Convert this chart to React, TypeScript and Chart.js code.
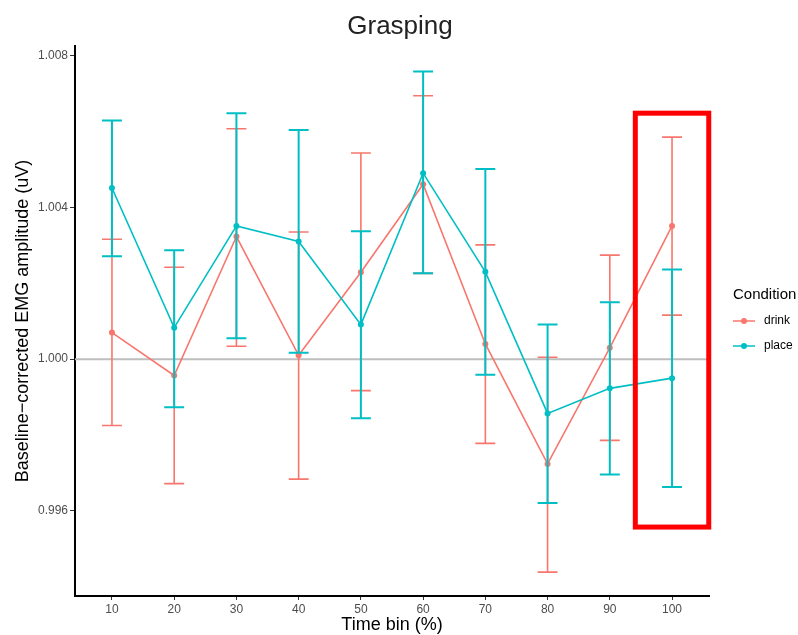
import React, { useEffect, useRef } from "react";
import { Chart, registerables } from "chart.js";

Chart.register(...registerables);

const timeBins = [10, 20, 30, 40, 50, 60, 70, 80, 90, 100];
const drinkMean = [1.0007, 0.99957, 1.00323, 1.0001, 1.00229, 1.00461, 1.0004, 0.99724, 1.0003, 1.00351];
const drinkUpper = [1.00316, 1.00242, 1.00607, 1.00335, 1.00543, 1.00694, 1.00301, 1.00005, 1.00274, 1.00585];
const drinkLower = [0.99825, 0.99672, 1.00034, 0.99684, 0.99917, 1.00226, 0.99778, 0.99439, 0.99786, 1.00116];
const placeMean = [1.00451, 1.00083, 1.00351, 1.0031, 1.00091, 1.0049, 1.0023, 0.99857, 0.99923, 0.9995];
const placeUpper = [1.00629, 1.00287, 1.00648, 1.00604, 1.00337, 1.00758, 1.00501, 1.00091, 1.0015, 1.00236];
const placeLower = [1.00271, 0.99873, 1.00055, 1.00017, 0.99844, 1.00226, 0.99959, 0.99621, 0.99696, 0.99663];
const yTicks = [0.996, 1.0, 1.004, 1.008];
const referenceValue = 1.0;
const highlightX = [94.1, 105.9];
const highlightY = [0.995576, 1.00648];

const FONT = '"Liberation Sans", Arial, Helvetica, sans-serif';
const RED = "#F8766D";
const TEAL = "#00BFC4";

const overlayPlugin = {
  id: "overlay",
  beforeDatasetsDraw(chart: any) {
    const { ctx, chartArea, scales } = chart;
    const py = scales.y.getPixelForValue(referenceValue);
    ctx.save();
    ctx.strokeStyle = "#BEBEBE";
    ctx.lineWidth = 2;
    ctx.beginPath();
    ctx.moveTo(chartArea.left, py);
    ctx.lineTo(chartArea.right, py);
    ctx.stroke();
    ctx.restore();
  },
  afterDatasetDraw(chart: any, args: any) {
    const ds = chart.data.datasets[args.index];
    const { ctx, scales } = chart;
    const xs = scales.x;
    const ys = scales.y;
    ctx.save();
    ctx.strokeStyle = ds.borderColor;
    ctx.lineWidth = ds.errLineWidth;
    ctx.lineCap = "butt";
    for (let i = 0; i < timeBins.length; i++) {
      const px = xs.getPixelForValue(timeBins[i]);
      const half = xs.getPixelForValue(timeBins[i] + 1.6) - px;
      const top = ys.getPixelForValue(ds.errHigh[i]);
      const bot = ys.getPixelForValue(ds.errLow[i]);
      ctx.beginPath();
      ctx.moveTo(px, top);
      ctx.lineTo(px, bot);
      ctx.moveTo(px - half, top);
      ctx.lineTo(px + half, top);
      ctx.moveTo(px - half, bot);
      ctx.lineTo(px + half, bot);
      ctx.stroke();
    }
    ctx.fillStyle = ds.borderColor;
    const meta = chart.getDatasetMeta(args.index);
    meta.data.forEach((pt: any) => {
      ctx.beginPath();
      ctx.arc(pt.x, pt.y, 3, 0, Math.PI * 2);
      ctx.fill();
    });
    ctx.restore();
  },
  afterDraw(chart: any) {
    const { ctx, chartArea, scales } = chart;
    ctx.save();
    ctx.fillStyle = "#222";
    ctx.font = `26px ${FONT}`;
    ctx.textAlign = "center";
    ctx.textBaseline = "middle";
    ctx.fillText("Grasping", 400, 27);
    ctx.fillStyle = "#000";
    ctx.font = `18px ${FONT}`;
    ctx.fillText("Time bin (%)", (chartArea.left + chartArea.right) / 2, 625);
    ctx.save();
    ctx.translate(23, (chartArea.top + chartArea.bottom) / 2);
    ctx.rotate(-Math.PI / 2);
    ctx.fillText("Baseline\u2212corrected EMG amplitude (uV)", 0, 0);
    ctx.restore();
    ctx.textAlign = "left";
    ctx.font = `15px ${FONT}`;
    ctx.fillText("Condition", 733, 295);
    const legendItems = [...chart.data.datasets].sort((a: any, b: any) => a.legendIndex - b.legendIndex);
    legendItems.forEach((ds: any, i: number) => {
      const cy = 321 + i * 25;
      ctx.strokeStyle = ds.borderColor;
      ctx.lineWidth = 1.5;
      ctx.beginPath();
      ctx.moveTo(733, cy);
      ctx.lineTo(755, cy);
      ctx.stroke();
      ctx.fillStyle = ds.borderColor;
      ctx.beginPath();
      ctx.arc(744, cy, 3, 0, Math.PI * 2);
      ctx.fill();
      ctx.fillStyle = "#000";
      ctx.font = `12px ${FONT}`;
      ctx.fillText(ds.label, 764, cy);
    });
    const x0 = scales.x.getPixelForValue(highlightX[0]);
    const x1 = scales.x.getPixelForValue(highlightX[1]);
    const y0 = scales.y.getPixelForValue(highlightY[1]);
    const y1 = scales.y.getPixelForValue(highlightY[0]);
    ctx.strokeStyle = "#FF0000";
    ctx.lineWidth = 5;
    ctx.strokeRect(x0, y0, x1 - x0, y1 - y0);
    ctx.restore();
  },
};

export default function App() {
  const ref = useRef<HTMLCanvasElement | null>(null);
  useEffect(() => {
    document.body.style.margin = "0";
    const canvas = ref.current;
    if (!canvas) return;
    const chart = new Chart(canvas, {
      type: "line",
      data: {
        datasets: [
          {
            label: "drink",
            data: timeBins.map((x, i) => ({ x, y: drinkMean[i] })),
            borderColor: RED,
            backgroundColor: RED,
            borderWidth: 1.6,
            pointRadius: 0,
            tension: 0,
            order: 1,
            errHigh: drinkUpper,
            errLow: drinkLower,
            errLineWidth: 1.6,
            legendIndex: 0,
          } as any,
          {
            label: "place",
            data: timeBins.map((x, i) => ({ x, y: placeMean[i] })),
            borderColor: TEAL,
            backgroundColor: TEAL,
            borderWidth: 1.6,
            pointRadius: 0,
            tension: 0,
            order: 0,
            errHigh: placeUpper,
            errLow: placeLower,
            errLineWidth: 2,
            legendIndex: 1,
          } as any,
        ],
      },
      options: {
        responsive: false,
        animation: false,
        layout: { padding: { left: 0, right: 89, top: 46, bottom: 0 } },
        plugins: { legend: { display: false }, tooltip: { enabled: false }, title: { display: false } },
        scales: {
          x: {
            type: "linear",
            min: 4.06,
            max: 105.94,
            afterBuildTicks: (s: any) => {
              s.ticks = timeBins.map((v) => ({ value: v }));
            },
            afterFit: (s: any) => {
              s.height = 39;
            },
            ticks: {
              color: "#4D4D4D",
              font: { family: FONT, size: 12 },
              padding: 2,
              maxRotation: 0,
              autoSkip: false,
              callback: (v: any) => String(v),
            },
            grid: { display: true, drawOnChartArea: false, drawTicks: true, tickLength: 4, color: "#333", lineWidth: 1 },
            border: { display: true, color: "#000", width: 2 },
          },
          y: {
            type: "linear",
            min: 0.99376,
            max: 1.00825,
            afterBuildTicks: (s: any) => {
              s.ticks = yTicks.map((v) => ({ value: v }));
            },
            afterFit: (s: any) => {
              s.width = 75;
            },
            ticks: {
              color: "#4D4D4D",
              font: { family: FONT, size: 12 },
              padding: 2,
              autoSkip: false,
              callback: (v: any) => Number(v).toFixed(3),
            },
            grid: { display: true, drawOnChartArea: false, drawTicks: true, tickLength: 5, color: "#333", lineWidth: 1 },
            border: { display: true, color: "#000", width: 2 },
          },
        },
      },
      plugins: [overlayPlugin],
    });
    return () => chart.destroy();
  }, []);
  return <canvas ref={ref} width={798} height={635} style={{ display: "block" }} />;
}
